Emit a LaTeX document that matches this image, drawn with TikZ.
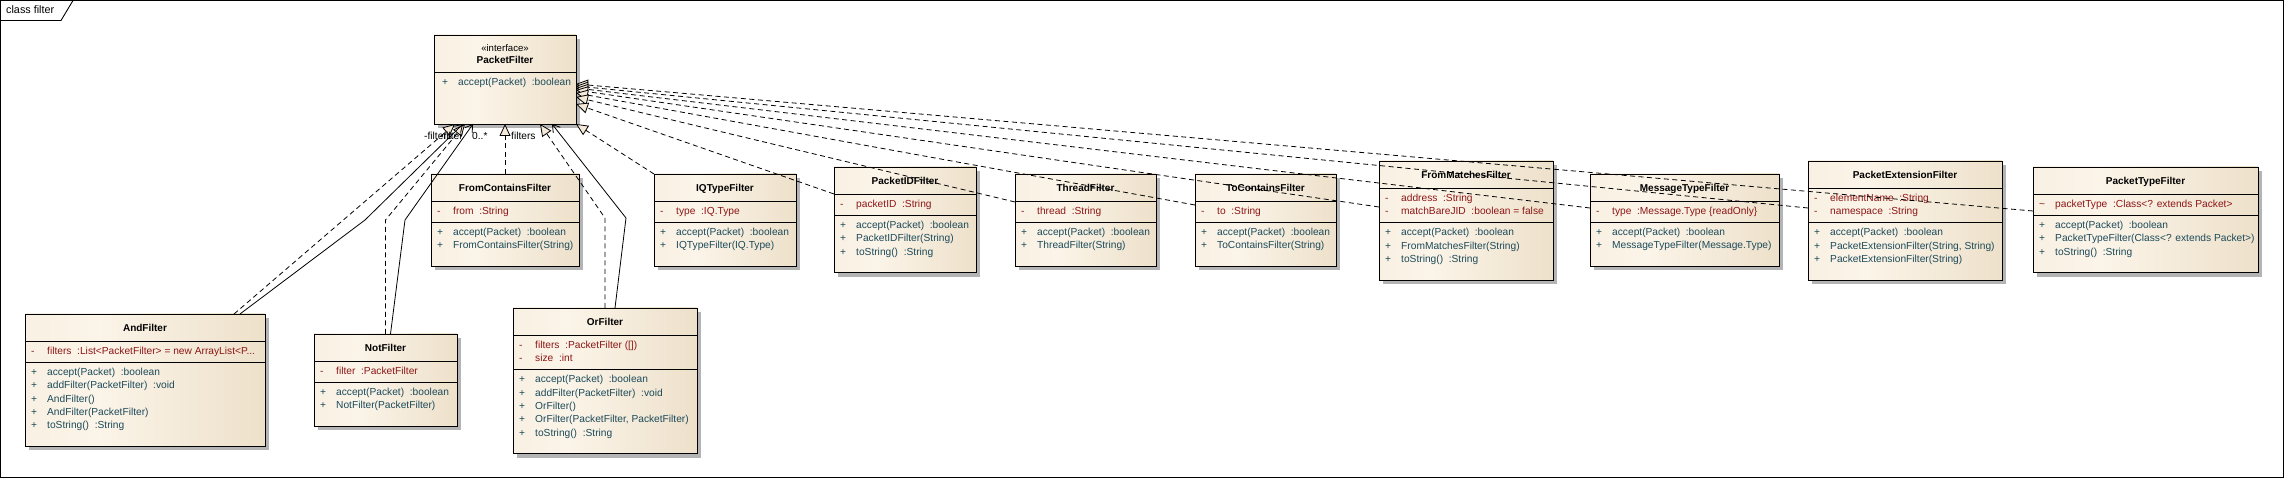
\documentclass[tikz,border=0pt]{standalone}
\usepackage{fontspec}
\setmainfont{Liberation Sans}
\usetikzlibrary{arrows.meta,calc}
\definecolor{attrc}{RGB}{140,22,22}
\definecolor{opc}{RGB}{28,74,90}
\definecolor{cL}{RGB}{245,234,217}
\definecolor{cM}{RGB}{251,244,232}
\definecolor{cR}{RGB}{228,211,182}
\definecolor{shadowc}{RGB}{180,180,180}
\pgfdeclarehorizontalshading{classshade}{100bp}{color(0bp)=(cL); color(40bp)=(cM); color(100bp)=(cR)}
\newcommand\rowfont{\fontsize{10.2}{12}\selectfont}
\tikzset{
  clsbox/.style={anchor=north west, draw, line width=0.9pt, shade, shading=classshade, inner sep=0pt, outer sep=0pt},
  divl/.style={line width=0.9pt},
  rowtxt/.style={anchor=west, inner sep=0pt, font=\rowfont, text height=7.6pt, text depth=2.2pt},
  ttl/.style={inner sep=0pt, font=\fontsize{10}{12}\selectfont\bfseries, text height=7.6pt, text depth=2.2pt},
  lbl/.style={rowtxt, text=black},
  real/.style={line width=0.8pt, dash pattern=on 5pt off 3.5pt, -{Triangle[length=12pt,width=11pt,fill=cL]}},
  assoc/.style={line width=0.8pt, -{Straight Barb[length=7pt,width=9pt]}},
}
% name L T R B titleY title
\newcommand\uclass[7]{%
  \fill[shadowc] ({#2+4},{#3+4}) rectangle ({#4+4},{#5+4});
  \node[clsbox, minimum width={#4-#2}, minimum height={#5-#3}] (#1) at (#2,#3) {};
  \node[ttl] (#1T) at ({(#2+#4)/2},#6) {#7};}
\newcommand\hdiv[3]{\draw[divl] (#1,#3) -- (#2,#3);}
\newcommand\arow[4]{\node[rowtxt,text=attrc] (#1) at ({#2+6},#3) {\makebox[16pt][l]{-}#4};}
\newcommand\orow[4]{\node[rowtxt,text=opc] (#1) at ({#2+6},#3) {\makebox[16pt][l]{+}#4};}
\begin{document}
\begin{tikzpicture}[x=1pt,y=-1pt]
\useasboundingbox (0,0) rectangle (2284,478);
% frame
\draw[line width=0.9pt] (0.5,0.5) rectangle (2283.5,477.5);
\draw[line width=0.9pt] (0.5,20.5) -- (61,20.5) -- (73,0.5);
\node[rowtxt,font=\fontsize{10.8}{12}\selectfont] (frameT) at (6,10.5) {class filter};

% PacketFilter
\uclass{pf}{434}{35}{576}{124}{61}{PacketFilter}
\node[inner sep=0pt,font=\fontsize{9.6}{11}\selectfont] (pfS) at (505,48) {«interface»};
\hdiv{434}{576}{72}
\orow{pfO1}{436}{83}{accept(Packet)~ :boolean}

% FromContainsFilter
\uclass{fcf}{431}{174}{579}{266.4}{188.5}{FromContainsFilter}
\hdiv{431}{579}{201.5}\hdiv{431}{579}{222.3}
\arow{fcfA1}{431}{212}{from~ :String}
\orow{fcfO1}{431}{232.8}{accept(Packet)~ :boolean}
\orow{fcfO2}{431}{246.1}{FromContainsFilter(String)}

% IQTypeFilter
\uclass{iqt}{654}{174}{796}{266.4}{188.5}{IQTypeFilter}
\hdiv{654}{796}{201.5}\hdiv{654}{796}{222.3}
\arow{iqtA1}{654}{212}{type~ :IQ.Type}
\orow{iqtO1}{654}{232.8}{accept(Packet)~ :boolean}
\orow{iqtO2}{654}{246.1}{IQTypeFilter(IQ.Type)}

% PacketIDFilter
\uclass{pid}{834}{167}{976}{272.7}{181.5}{PacketIDFilter}
\hdiv{834}{976}{194.5}\hdiv{834}{976}{215.3}
\arow{pidA1}{834}{205}{packetID~ :String}
\orow{pidO1}{834}{225.8}{accept(Packet)~ :boolean}
\orow{pidO2}{834}{239.1}{PacketIDFilter(String)}
\orow{pidO3}{834}{252.4}{toString()~ :String}

% ThreadFilter
\uclass{thr}{1015}{174}{1156}{266.4}{188.5}{ThreadFilter}
\hdiv{1015}{1156}{201.5}\hdiv{1015}{1156}{222.3}
\arow{thrA1}{1015}{212}{thread~ :String}
\orow{thrO1}{1015}{232.8}{accept(Packet)~ :boolean}
\orow{thrO2}{1015}{246.1}{ThreadFilter(String)}

% ToContainsFilter
\uclass{toc}{1195}{174}{1336}{266.4}{188.5}{ToContainsFilter}
\hdiv{1195}{1336}{201.5}\hdiv{1195}{1336}{222.3}
\arow{tocA1}{1195}{212}{to~ :String}
\orow{tocO1}{1195}{232.8}{accept(Packet)~ :boolean}
\orow{tocO2}{1195}{246.1}{ToContainsFilter(String)}

% FromMatchesFilter
\uclass{fmf}{1379}{161}{1553}{280}{175.5}{FromMatchesFilter}
\hdiv{1379}{1553}{188.5}\hdiv{1379}{1553}{222.6}
\arow{fmfA1}{1379}{199}{address~ :String}
\arow{fmfA2}{1379}{212.3}{matchBareJID~ :boolean = false}
\orow{fmfO1}{1379}{233.1}{accept(Packet)~ :boolean}
\orow{fmfO2}{1379}{246.4}{FromMatchesFilter(String)}
\orow{fmfO3}{1379}{259.7}{toString()~ :String}

% MessageTypeFilter
\uclass{mtf}{1590}{174}{1779}{266.4}{188.5}{MessageTypeFilter}
\hdiv{1590}{1779}{201.5}\hdiv{1590}{1779}{222.3}
\arow{mtfA1}{1590}{212}{type~ :Message.Type \{readOnly\}}
\orow{mtfO1}{1590}{232.8}{accept(Packet)~ :boolean}
\orow{mtfO2}{1590}{246.1}{MessageTypeFilter(Message.Type)}

% PacketExtensionFilter
\uclass{pef}{1808}{161}{2002}{280}{175.5}{PacketExtensionFilter}
\hdiv{1808}{2002}{188.5}\hdiv{1808}{2002}{222.6}
\arow{pefA1}{1808}{199}{elementName~ :String}
\arow{pefA2}{1808}{212.3}{namespace~ :String}
\orow{pefO1}{1808}{233.1}{accept(Packet)~ :boolean}
\orow{pefO2}{1808}{246.4}{PacketExtensionFilter(String, String)}
\orow{pefO3}{1808}{259.7}{PacketExtensionFilter(String)}

% PacketTypeFilter
\uclass{ptf}{2033}{167}{2258}{272.7}{181.5}{PacketTypeFilter}
\hdiv{2033}{2258}{194.5}\hdiv{2033}{2258}{215.3}
\node[rowtxt,text=attrc] (ptfA1) at (2039,205) {\makebox[16pt][l]{\textasciitilde}packetType~ :Class<? extends Packet>};
\orow{ptfO1}{2033}{225.8}{accept(Packet)~ :boolean}
\orow{ptfO2}{2033}{239.1}{PacketTypeFilter(Class<? extends Packet>)}
\orow{ptfO3}{2033}{252.4}{toString()~ :String}

% AndFilter
\uclass{andf}{25}{314}{265}{446.3}{328.5}{AndFilter}
\hdiv{25}{265}{341.5}\hdiv{25}{265}{362.3}
\arow{andA1}{25}{352}{filters~ :List<PacketFilter> = new ArrayList<P...}
\orow{andO1}{25}{372.8}{accept(Packet)~ :boolean}
\orow{andO2}{25}{386.1}{addFilter(PacketFilter)~ :void}
\orow{andO3}{25}{399.4}{AndFilter()}
\orow{andO4}{25}{412.7}{AndFilter(PacketFilter)}
\orow{andO5}{25}{426.0}{toString()~ :String}

% NotFilter
\uclass{notf}{314}{334}{457}{426.4}{348.5}{NotFilter}
\hdiv{314}{457}{361.5}\hdiv{314}{457}{382.3}
\arow{notA1}{314}{372}{filter~ :PacketFilter}
\orow{notO1}{314}{392.8}{accept(Packet)~ :boolean}
\orow{notO2}{314}{406.1}{NotFilter(PacketFilter)}

% OrFilter
\uclass{orf}{513}{308}{697}{453.6}{322.5}{OrFilter}
\hdiv{513}{697}{335.5}\hdiv{513}{697}{369.6}
\arow{orA1}{513}{346}{filters~ :PacketFilter ([])}
\arow{orA2}{513}{359.3}{size~ :int}
\orow{orO1}{513}{380.1}{accept(Packet)~ :boolean}
\orow{orO2}{513}{393.4}{addFilter(PacketFilter)~ :void}
\orow{orO3}{513}{406.7}{OrFilter()}
\orow{orO4}{513}{420.0}{OrFilter(PacketFilter, PacketFilter)}
\orow{orO5}{513}{433.3}{toString()~ :String}

% connectors (left / below)
\coordinate (bA) at (365,220);
\coordinate (bN1) at (385.5,220);
\coordinate (bN2) at (405,220);
\coordinate (bO1) at (605,218);
\coordinate (bO2) at (626,218);
\draw[real] ($(andf.north)+(89,0)$) -- ($(pf.south)+(-50,0)$);
\draw[real] (notf.north) -- (bN1) -- ($(pf.south)+(-40,0)$);
\draw[real] (orf.north) -- (bO1) -- ($(pf.south)+(35,0)$);
\draw[assoc] ($(andf.north)+(95,0)$) -- (bA) -- ($(pf.south)+(-42,0)$);
\draw[assoc] ($(notf.north)+(5,0)$) -- (bN2) -- ($(pf.south)+(-32,0)$);
\draw[assoc] ($(orf.north)+(10,0)$) -- (bO2) -- ($(pf.south)+(47,0)$);
\draw[real] (fcf.north) -- (pf.south);
\draw[real] (iqt.north west) -- (pf.south east);
% connectors (right)
\draw[real] ($(ptf.west)+(0,-8.85)$) -- ($(pf.east)+(0,4.5)$);
\draw[real] ($(pef.west)+(0,-12.5)$) -- ($(pf.east)+(0,6.5)$);
\draw[real] ($(mtf.west)+(0,-12.2)$) -- ($(pf.east)+(0,8.5)$);
\draw[real] ($(fmf.west)+(0,-13.5)$) -- ($(pf.east)+(0,10.5)$);
\draw[real] ($(toc.west)+(0,-15.2)$) -- ($(pf.east)+(0,13.5)$);
\draw[real] ($(thr.west)+(0,-18.2)$) -- ($(pf.east)+(0,17.5)$);
\draw[real] ($(pid.west)+(0,-25.85)$) -- ($(pf.east)+(0,24.5)$);

% role labels
\node[lbl] (l1) at (424,137) {-filters};
\node[lbl,anchor=east] (l2) at (463,137) {-filter};
\node[lbl] (l3) at (472,137) {0..*};
\node[lbl] (l4) at (511,137) {filters};
\end{tikzpicture}
\end{document}
